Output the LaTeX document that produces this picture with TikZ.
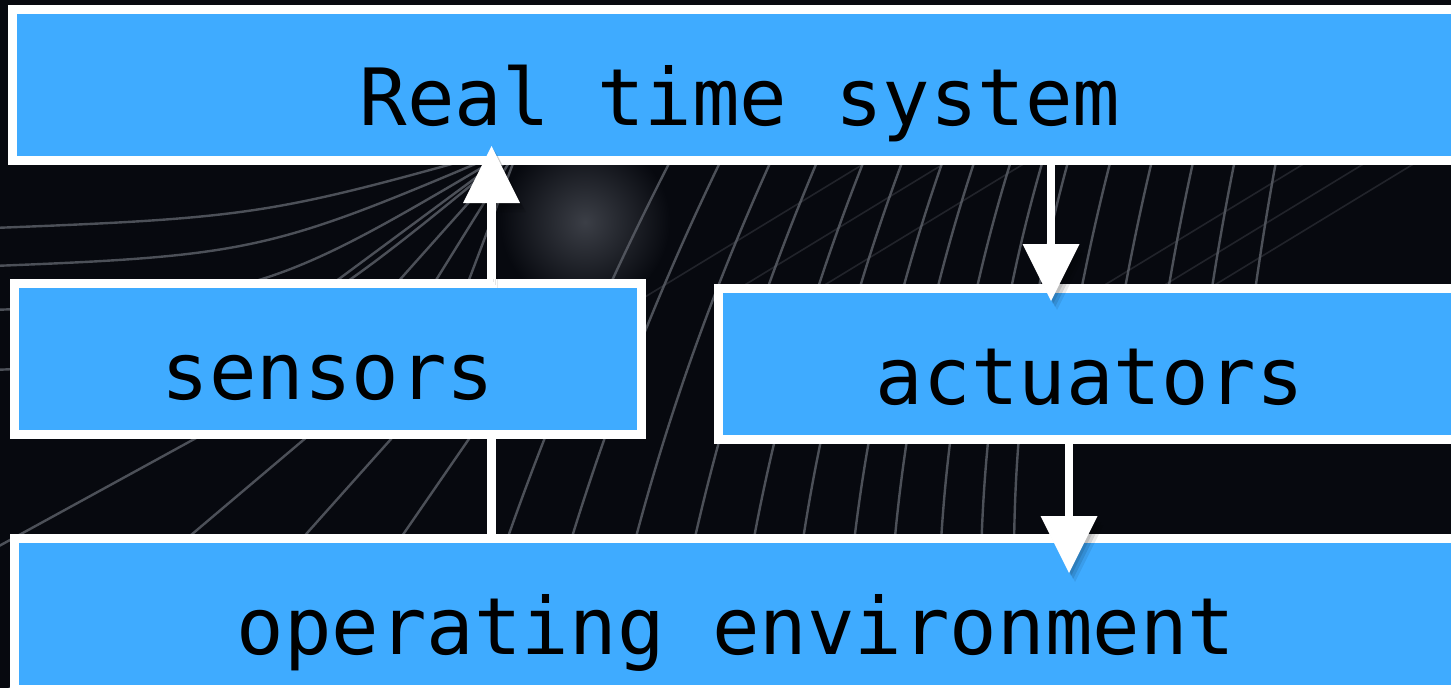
\documentclass[tikz,border=0pt]{standalone}
\usepackage{fontspec}
\setmonofont{DejaVu Sans Mono}
\usetikzlibrary{arrows.meta}
\definecolor{boxblue}{HTML}{3FABFF}
\definecolor{bgdark}{HTML}{07090F}
\definecolor{swirl}{HTML}{5E626B}
\tikzset{
  stage/.style={rectangle, draw=white, line width=9pt, fill=boxblue, inner sep=0pt,
    minimum height=151pt, text=black, text height=80pt, text depth=0pt,
    font=\ttfamily\fontsize{79}{79}\selectfont},
  link/.style={draw=white, line width=8.5pt},
  flow/.style={link, -{Triangle[width=57pt,length=57pt,line width=0pt]},
    preaction={draw=black, opacity=0.10, transform canvas={shift={(2pt,-3pt)}}},
    preaction={draw=black, opacity=0.10, transform canvas={shift={(4pt,-6pt)}}},
    preaction={draw=black, opacity=0.08, transform canvas={shift={(6pt,-9pt)}}}},
  swirlline/.style={draw=swirl, line width=2.4pt, opacity=0.8},
  faintline/.style={draw=swirl, line width=1.6pt, opacity=0.3},
}
\begin{document}
\begin{tikzpicture}[x=1pt,y=-1pt]
\useasboundingbox (0,0) rectangle (1451,688);
\clip (0,0) rectangle (1451,688);

% dark backdrop with a hazy glow
\fill[bgdark] (0,0) rectangle (1451,688);
\shade[inner color=swirl!60!bgdark, outer color=bgdark] (585,222) circle (85);

% long strokes sweeping in from the left
\coordinate (hub) at (520,145);
\foreach \lx/\ly in {-60/230, -60/268, -60/312, -60/372}{
  \pgfmathsetmacro\cx{\lx+(520-\lx)*0.55}
  \pgfmathsetmacro\cy{\ly-12}
  \draw[swirlline] (\lx,\ly) .. controls (\cx,\cy) .. (hub);
}
\foreach \lx in {270, 355, 405, 450}
  \draw[swirlline] (\lx,330) -- (hub);

% slanted strokes in the lower left
\foreach \xa/\xb in {-282/229, -4/327, 158/408, 289/482}
  \draw[swirlline] (\xa,700) -- (\xb,420);

% sweeping arcs to the right of the glow
\foreach \b/\ys in {500/560, 565/560, 630/560, 690/560, 750/560, 800/560,
                    852/560, 893/560, 940/560, 981/560, 1014/560,
                    1060/420, 1105/420, 1150/420, 1195/420, 1240/420}{
  \pgfmathsetmacro\u{max(0,(1014-\b)/450)}
  \pgfmathsetmacro\sa{0.3*\u}
  \pgfmathsetmacro\sb{0.3+0.2*(1014-\b)/450}
  \pgfmathsetmacro\tx{\b+220*\sa+220*\sb}
  \pgfmathsetmacro\ca{\b+150*\sa}
  \pgfmathsetmacro\cb{\tx-150*\sb}
  \draw[swirlline] (\b,\ys) .. controls (\ca,410) and (\cb,270) .. (\tx,120);
}

% faint cross strokes
\foreach \x in {640, 720, 800, 1080, 1140, 1190}
  \draw[faintline] (\x,300) -- (\x+230,160);

% blocks
\node[stage, minimum width=1455pt] (rts) at (740,85) {Real time system};
\node[stage, minimum width=627pt] (sensors) at (328,359) {sensors};
\node[stage, minimum width=743pt] (act) at (1090,364) {actuators};
\node[stage, minimum width=1443pt] (env) at (736,614) {operating environment};

% signal paths
\coordinate (upx) at (491.5,0);
\coordinate (dnx) at (1051,0);
\coordinate (outx) at (1069,0);
\draw[link] (env.north -| upx) -- (sensors.south -| upx);
\draw[flow, shorten >=-19pt] (sensors.north -| upx) -- (rts.south -| upx);
\draw[flow, shorten >=-17pt] (rts.south -| dnx) -- (act.north -| dnx);
\draw[flow, shorten >=-39pt] (act.south -| outx) -- (env.north -| outx);
\end{tikzpicture}
\end{document}
